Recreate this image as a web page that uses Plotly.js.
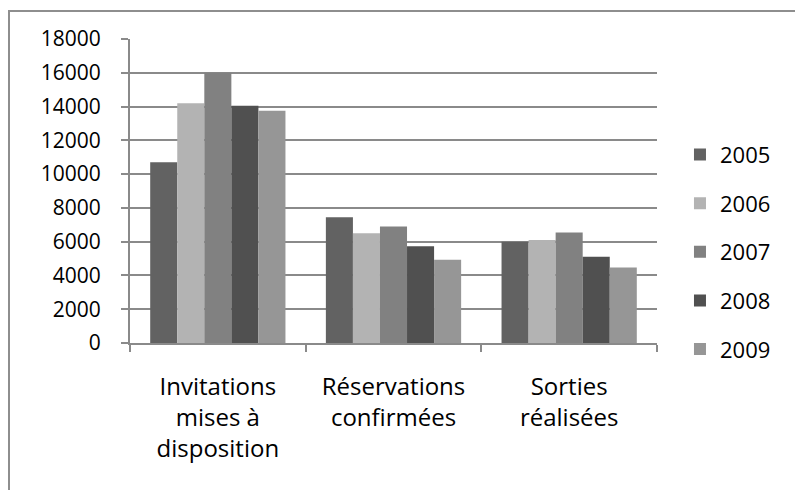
<!DOCTYPE html>
<html>
<head>
<meta charset="utf-8">
<script src="https://cdn.plot.ly/plotly-3.0.1.min.js"></script>
<style>
  html, body { margin: 0; padding: 0; background: #ffffff; }
  #wrap { position: relative; width: 795px; height: 490px; overflow: hidden; }
  #frame { position: absolute; left: 8px; top: 10px; right: -5px; bottom: -5px;
           border-left: 2px solid #8e8e8e; border-top: 2px solid #8e8e8e; }
  #chart { position: absolute; left: 0; top: 0; width: 795px; height: 490px; }
</style>
</head>
<body>
<div id="wrap">
  <div id="frame"></div>
  <div id="chart"></div>
</div>
<script>
const categories = ["Invitations<br>mises à<br>disposition", "Réservations<br>confirmées", "Sorties<br>réalisées"];
const years = ["2005", "2006", "2007", "2008", "2009"];
const values2005 = [10700, 7450, 6000];
const values2006 = [14200, 6500, 6100];
const values2007 = [16000, 6900, 6550];
const values2008 = [14050, 5730, 5110];
const values2009 = [13750, 4930, 4470];
const colors = ["#626262", "#b3b3b3", "#818181", "#505050", "#969696"];
const yTicks = [0, 2000, 4000, 6000, 8000, 10000, 12000, 14000, 16000, 18000];

const series = [values2005, values2006, values2007, values2008, values2009];
const FONT = "Open Sans, Lato, sans-serif";

const traces = series.map((vals, i) => ({
  type: "bar",
  name: years[i],
  x: categories,
  y: vals,
  legendgroup: years[i],
  marker: { color: colors[i], line: { width: 0 } },
  hoverinfo: "skip"
}));

const layout = {
  width: 795,
  height: 490,
  margin: { l: 130, r: 138, t: 39, b: 147, pad: 0 },
  paper_bgcolor: "rgba(0,0,0,0)",
  plot_bgcolor: "rgba(0,0,0,0)",
  barmode: "group",
  bargap: 0.23,
  bargroupgap: 0,
  font: { family: FONT, size: 22, color: "#000000" },
  xaxis: {
    type: "category",
    showline: true,
    linecolor: "#8a8a8a",
    linewidth: 2,
    ticks: "outside",
    tickson: "boundaries",
    ticklen: 7,
    tickwidth: 2,
    tickcolor: "#8a8a8a",
    showgrid: false,
    zeroline: false,
    ticklabelstandoff: 21,
    tickfont: { family: FONT, size: 24, color: "#000000" },
    fixedrange: true
  },
  yaxis: {
    range: [0, 18000],
    tickvals: yTicks,
    ticktext: yTicks.map(String),
    showline: true,
    linecolor: "#8a8a8a",
    linewidth: 2,
    ticks: "outside",
    ticklen: 7,
    tickwidth: 2,
    tickcolor: "#8a8a8a",
    showgrid: true,
    gridcolor: "#8a8a8a",
    gridwidth: 2,
    zeroline: false,
    ticklabelstandoff: 16,
    tickfont: { family: FONT, size: 21, color: "#000000" },
    fixedrange: true
  },
  legend: {
    x: 1.0436,
    xanchor: "left",
    y: 0.3,
    yanchor: "middle",
    traceorder: "grouped",
    tracegroupgap: 17,
    font: { family: FONT, size: 22, color: "#000000" },
    bgcolor: "rgba(0,0,0,0)",
    borderwidth: 0
  },
  showlegend: true
};

Plotly.newPlot("chart", traces, layout, { displayModeBar: false, staticPlot: true });
</script>
</body>
</html>
